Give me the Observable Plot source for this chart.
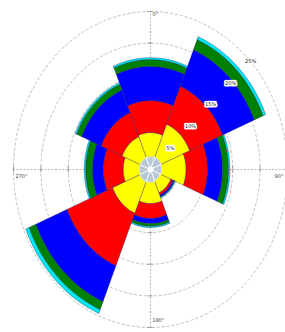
<!DOCTYPE html>
<html>
<head>
<meta charset="utf-8">
<script src="https://cdn.jsdelivr.net/npm/d3@7"></script>
<script src="https://cdn.jsdelivr.net/npm/@observablehq/plot@0.6"></script>
<style>
  html, body { margin: 0; padding: 0; background: #fff; }
  #chart svg { display: block; }
</style>
</head>
<body>
<div id="chart"></div>
<script>
// Directions (centre angle, degrees clockwise from north)
const directions = ["N", "NE", "E", "SE", "S", "SW", "W", "NW"];
const angles = [0, 45, 90, 135, 180, 225, 270, 315];
// Frequency (%) per speed class, per direction
const speedClasses = ["class 1", "class 2", "class 3", "class 4", "class 5", "class 6"];
const class1 = [2.0, 2.1, 2.0, 1.9, 2.0, 2.1, 2.0, 2.0];
const class2 = [3.85, 5.65, 4.5, 2.1, 3.4, 5.4, 3.0, 3.6];
const class3 = [5.05, 6.5, 3.9, 0.4, 2.35, 9.0, 3.6, 4.15];
const class4 = [5.4, 6.25, 2.75, 0.25, 0.8, 6.15, 2.0, 3.85];
const class5 = [1.1, 1.75, 1.1, 0.1, 0.45, 1.35, 1.25, 1.0];
const class6 = [0.3, 0.5, 0.25, 0.1, 0.2, 0.65, 0.25, 0.25];
const classColors = ["#b7c7d6", "#ffff00", "#ff0000", "#0000ff", "#008000", "#00e8f0"];
// Radial grid
const ringValues = [5, 10, 15, 20, 25];
const ringLabels = ["5%", "10%", "15%", "20%", "25%"];
const axisLabels = ["0°", "90°", "180°", "270°"];

const classes = [class1, class2, class3, class4, class5, class6];
const half = 22.5;
const rad = d => d * Math.PI / 180;
const pt = (r, a) => ({x: r * Math.sin(rad(a)), y: r * Math.cos(rad(a))});

// Build wedge polygons from stacked values
const wedges = [];
directions.forEach((dir, i) => {
  let cum = 0;
  classes.forEach((vals, j) => {
    const r0 = cum, r1 = cum + vals[i];
    cum = r1;
    const id = dir + "-" + j;
    const pts = [];
    const n = 16;
    for (let k = 0; k <= n; k++) {
      const a = angles[i] - half + (2 * half) * k / n;
      pts.push({id, cls: j, color: classColors[j], ...pt(r1, a)});
    }
    for (let k = n; k >= 0; k--) {
      const a = angles[i] - half + (2 * half) * k / n;
      pts.push({id, cls: j, color: classColors[j], ...pt(r0, a)});
    }
    pts.push({...pts[0]});
    wedges.push(...pts);
  });
});

// Grid rings
const rings = [];
ringValues.forEach(v => {
  for (let k = 0; k <= 180; k++) rings.push({ring: v, ...pt(v, k * 2)});
});
const rmax = ringValues[ringValues.length - 1];

// Ring labels along ~47 degrees
const labelAngle = 47;
const ringLabelData = ringValues.map((v, i) => ({label: ringLabels[i], ...pt(v, labelAngle)}));

const axisText = (label, x, y, dx, dy, anchor) =>
  Plot.text([label], {x: () => x, y: () => y, text: d => d, dx, dy, textAnchor: anchor, fontSize: 5, fill: "#444"});

const chart = Plot.plot({
  width: 285,
  height: 332,
  margin: 0,
  style: {background: "#fff", fontFamily: "DejaVu Sans"},
  x: {domain: [-27.37, 24.64], axis: null},
  y: {domain: [-25.79, 26.74], axis: null},
  color: {type: "identity"},
  marks: [
    Plot.line(rings, {x: "x", y: "y", z: "ring", stroke: "#9a9a9a", strokeWidth: 0.6, strokeDasharray: "2.5,2.5"}),
    Plot.ruleX([0], {y1: -rmax, y2: rmax, stroke: "#8a8a8a", strokeWidth: 0.6, strokeDasharray: "2,1.5"}),
    Plot.ruleY([0], {x1: -rmax, x2: rmax, stroke: "#8a8a8a", strokeWidth: 0.6, strokeDasharray: "2,1.5"}),
    Plot.ruleY(ringValues.flatMap(v => [v, -v]), {x1: -0.45, x2: 0.45, stroke: "#777", strokeWidth: 0.6}),
    Plot.ruleX(ringValues.flatMap(v => [v, -v]), {y1: -0.5, y2: 0.5, stroke: "#777", strokeWidth: 0.6}),
    Plot.line(wedges.filter(d => d.cls > 0), {x: "x", y: "y", z: "id", fill: "color", stroke: "#1a1a60", strokeWidth: 0.35}),
    Plot.line(wedges.filter(d => d.cls === 0), {x: "x", y: "y", z: "id", fill: "color", stroke: "#ffffff", strokeWidth: 0.8}),
    Plot.dot([0], {x: () => 0, y: () => 0, r: 3, fill: "white", stroke: "none"}),
    Plot.text(ringLabelData, {x: "x", y: "y", text: "label", fontSize: 5, fill: "#222", stroke: "white", strokeWidth: 3, paintOrder: "stroke"}),
    axisText(axisLabels[0], 0, rmax, 2, 3, "start"),
    axisText(axisLabels[1], rmax, 0, -4, 7, "end"),
    axisText(axisLabels[2], 0, -rmax, 2, -7, "start"),
    axisText(axisLabels[3], -rmax, 0, 2, 7, "start")
  ]
});
document.getElementById("chart").appendChild(chart);
</script>
</body>
</html>
